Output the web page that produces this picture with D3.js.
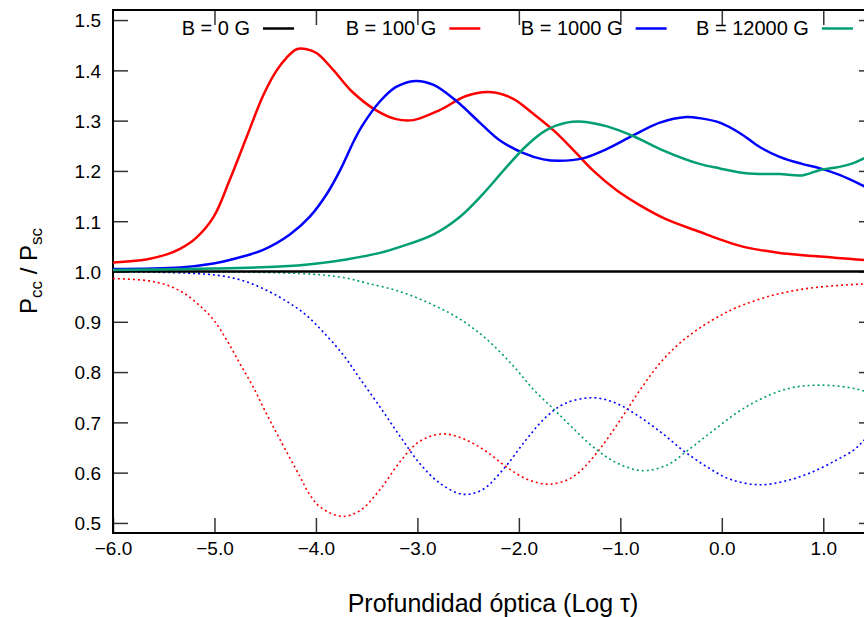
<!DOCTYPE html>
<html lang="es">
<head>
  <meta charset="UTF-8">
  <title>Pcc / Psc</title>
  <script src="https://d3js.org/d3.v7.min.js"></script>
  <style>
    body { margin: 0; background: #fff; }
    svg { display: block; font-family: "Liberation Sans", Arial, sans-serif; }
    .tick text { font-size: 19px; fill: #000; }
    .tick line { stroke: #333; stroke-width: 1.5px; }
    .frame { fill: none; stroke: #000; stroke-width: 2px; }
    .solid { fill: none; stroke-width: 2.5px; }
    .dotted { fill: none; stroke-width: 1.6px; stroke-dasharray: 2,3; }
  </style>
</head>
<body>
  <svg width="864" height="617"></svg>

  <script>
    // Series labels and colours (legend order)
    const seriesNames = ["B = 0 G", "B = 100 G", "B = 1000 G", "B = 12000 G"];
    const seriesColors = ["#000000", "#ff0000", "#0000ff", "#009e73"];

    const xTicks = [-6, -5, -4, -3, -2, -1, 0, 1];
    const yTicks = [0.5, 0.6, 0.7, 0.8, 0.9, 1.0, 1.1, 1.2, 1.3, 1.4, 1.5];

    // Solid curves: [log tau, ratio]
    const solid0 = [[-6.0, 1.0], [1.5, 1.0]];
    const solid100 = [
      [-6.00, 1.018], [-5.67, 1.024], [-5.47, 1.034], [-5.34, 1.045], [-5.18, 1.067],
      [-5.01, 1.108], [-4.85, 1.182], [-4.68, 1.269], [-4.52, 1.350], [-4.39, 1.399],
      [-4.29, 1.425], [-4.19, 1.442], [-4.09, 1.442], [-3.99, 1.434], [-3.83, 1.401],
      [-3.64, 1.357], [-3.41, 1.321], [-3.21, 1.303], [-3.04, 1.301], [-2.78, 1.321],
      [-2.52, 1.349], [-2.29, 1.357], [-2.06, 1.344], [-1.86, 1.314], [-1.66, 1.281],
      [-1.46, 1.241], [-1.27, 1.201], [-1.04, 1.162], [-0.81, 1.132], [-0.55, 1.104],
      [-0.22, 1.079], [-0.02, 1.064], [0.18, 1.051], [0.37, 1.043], [0.57, 1.037],
      [0.77, 1.033], [1.09, 1.028], [1.40, 1.023], [1.50, 1.022]
    ];
    const solid1000 = [
      [-6.00, 1.005], [-5.34, 1.008], [-5.01, 1.016], [-4.85, 1.023], [-4.52, 1.043],
      [-4.26, 1.073], [-4.06, 1.109], [-3.89, 1.155], [-3.76, 1.202], [-3.62, 1.262],
      [-3.54, 1.291], [-3.37, 1.338], [-3.21, 1.367], [-3.02, 1.379], [-2.84, 1.371],
      [-2.61, 1.338], [-2.38, 1.295], [-2.19, 1.261], [-1.96, 1.236], [-1.76, 1.223],
      [-1.60, 1.220], [-1.37, 1.225], [-1.14, 1.243], [-0.87, 1.271], [-0.61, 1.296],
      [-0.35, 1.307], [-0.22, 1.305], [-0.02, 1.296], [0.18, 1.275], [0.37, 1.248],
      [0.57, 1.228], [0.79, 1.214], [0.97, 1.205], [1.16, 1.192], [1.40, 1.170], [1.50, 1.160]
    ];
    const solid12000 = [
      [-6.00, 1.003], [-5.01, 1.006], [-4.36, 1.010], [-4.03, 1.015], [-3.70, 1.024],
      [-3.37, 1.037], [-3.17, 1.049], [-2.84, 1.074], [-2.58, 1.109], [-2.35, 1.155],
      [-2.12, 1.208], [-1.92, 1.251], [-1.73, 1.281], [-1.53, 1.296], [-1.37, 1.298],
      [-1.14, 1.289], [-0.87, 1.269], [-0.58, 1.241], [-0.22, 1.214], [-0.02, 1.205],
      [0.18, 1.197], [0.37, 1.194], [0.57, 1.194], [0.79, 1.191], [0.97, 1.202],
      [1.16, 1.208], [1.29, 1.215], [1.40, 1.225], [1.50, 1.235]
    ];

    // Dotted curves
    const dotted100 = [
      [-6.00, 0.986], [-5.67, 0.982], [-5.47, 0.973], [-5.31, 0.958], [-5.15, 0.933],
      [-5.01, 0.904], [-4.88, 0.864], [-4.75, 0.817], [-4.62, 0.771], [-4.49, 0.718],
      [-4.36, 0.668], [-4.16, 0.593], [-4.06, 0.556], [-3.96, 0.532], [-3.75, 0.513],
      [-3.57, 0.524], [-3.37, 0.566], [-3.17, 0.622], [-2.98, 0.662], [-2.75, 0.677],
      [-2.52, 0.665], [-2.32, 0.642], [-2.12, 0.611], [-1.92, 0.587], [-1.71, 0.577],
      [-1.52, 0.586], [-1.39, 0.604], [-1.21, 0.645], [-1.00, 0.705], [-0.80, 0.766],
      [-0.60, 0.820], [-0.40, 0.860], [-0.20, 0.890], [0.00, 0.914], [0.14, 0.928],
      [0.47, 0.951], [0.80, 0.965], [1.13, 0.972], [1.39, 0.975], [1.50, 0.976]
    ];
    const dotted1000 = [
      [-6.00, 1.000], [-5.18, 0.996], [-4.92, 0.991], [-4.69, 0.980], [-4.46, 0.960],
      [-4.26, 0.937], [-4.10, 0.914], [-3.93, 0.880], [-3.73, 0.834], [-3.57, 0.788],
      [-3.37, 0.731], [-3.17, 0.672], [-2.98, 0.619], [-2.78, 0.579], [-2.55, 0.557],
      [-2.36, 0.566], [-2.16, 0.605], [-1.93, 0.665], [-1.73, 0.711], [-1.54, 0.738],
      [-1.27, 0.749], [-1.04, 0.738], [-0.84, 0.715], [-0.61, 0.682], [-0.38, 0.644],
      [-0.15, 0.612], [0.08, 0.587], [0.37, 0.576], [0.64, 0.584], [0.90, 0.602],
      [1.13, 0.625], [1.30, 0.645], [1.39, 0.662], [1.50, 0.685]
    ];
    const dotted12000 = [
      [-6.00, 1.000], [-4.16, 0.996], [-3.73, 0.988], [-3.50, 0.977], [-3.17, 0.960],
      [-2.84, 0.933], [-2.57, 0.904], [-2.31, 0.864], [-2.05, 0.811], [-1.85, 0.764],
      [-1.65, 0.725], [-1.49, 0.693], [-1.29, 0.655], [-1.06, 0.622], [-0.79, 0.604],
      [-0.54, 0.615], [-0.35, 0.642], [-0.12, 0.678], [0.14, 0.718], [0.40, 0.748],
      [0.67, 0.768], [0.94, 0.774], [1.23, 0.770], [1.39, 0.763], [1.50, 0.757]
    ];

    const solidSeries = [solid0, solid100, solid1000, solid12000];
    const dottedSeries = [null, dotted100, dotted1000, dotted12000];

    const svg = d3.select("svg");
    const margin = { left: 113, top: 10, right: 874, bottom: 533 };

    const x = d3.scaleLinear().domain([-6, 1.5]).range([margin.left, margin.right]);
    const y = d3.scaleLinear().domain([0.48, 1.52]).range([margin.bottom, margin.top]);

    // Clip curves to plot area
    svg.append("clipPath").attr("id", "plot")
      .append("rect")
      .attr("x", margin.left).attr("y", margin.top)
      .attr("width", margin.right - margin.left)
      .attr("height", margin.bottom - margin.top);

    const fmt = d3.format(".1f");
    const minus = d => fmt(d).replace("-", "\u2212");

    // Axes (ticks pointing inward)
    svg.append("g")
      .attr("transform", `translate(0,${margin.bottom})`)
      .call(d3.axisBottom(x).tickValues(xTicks).tickFormat(minus).tickSizeInner(-15).tickSizeOuter(0).tickPadding(9))
      .call(g => g.select(".domain").remove());

    svg.append("g")
      .attr("transform", `translate(0,${margin.top})`)
      .call(d3.axisTop(x).tickValues(xTicks.slice(1)).tickFormat("").tickSizeInner(-15).tickSizeOuter(0))
      .call(g => g.select(".domain").remove());

    svg.append("g")
      .attr("transform", `translate(${margin.left},0)`)
      .call(d3.axisLeft(y).tickValues(yTicks).tickFormat(fmt).tickSizeInner(-15).tickSizeOuter(0).tickPadding(12))
      .call(g => g.select(".domain").remove())
      .selectAll("text").attr("dy", "0.36em");

    svg.append("g")
      .attr("transform", `translate(${margin.right},0)`)
      .call(d3.axisRight(y).tickValues(yTicks).tickFormat("").tickSizeInner(-15).tickSizeOuter(0))
      .call(g => g.select(".domain").remove());

    svg.append("rect")
      .attr("class", "frame")
      .attr("x", margin.left).attr("y", margin.top)
      .attr("width", margin.right - margin.left)
      .attr("height", margin.bottom - margin.top);

    const line = d3.line()
      .x(d => x(d[0]))
      .y(d => y(d[1]))
      .curve(d3.curveCatmullRom.alpha(0.5));

    const plot = svg.append("g").attr("clip-path", "url(#plot)");

    dottedSeries.forEach((s, i) => {
      if (!s) return;
      plot.append("path")
        .attr("class", "dotted")
        .attr("stroke", seriesColors[i])
        .attr("d", line(s));
    });

    solidSeries.forEach((s, i) => {
      plot.append("path")
        .attr("class", "solid")
        .attr("stroke", seriesColors[i])
        .attr("d", line(s));
    });

    // Legend along the top
    const legend = svg.append("g").attr("font-size", 20);
    seriesNames.forEach((name, i) => {
      const sx = 263 + i * 186.3;
      legend.append("text")
        .attr("x", sx - 13)
        .attr("y", 35)
        .attr("text-anchor", "end")
        .text(name);
      legend.append("line")
        .attr("x1", sx).attr("x2", sx + 31)
        .attr("y1", 28.5).attr("y2", 28.5)
        .attr("stroke", seriesColors[i])
        .attr("stroke-width", 2.5);
    });

    // Axis titles
    svg.append("text")
      .attr("x", 493)
      .attr("y", 612)
      .attr("text-anchor", "middle")
      .attr("font-size", 25)
      .text("Profundidad óptica (Log τ)");

    const yl = svg.append("text")
      .attr("transform", "translate(37,271) rotate(-90)")
      .attr("text-anchor", "middle")
      .attr("font-size", 24);
    yl.append("tspan").text("P");
    yl.append("tspan").attr("font-size", 17).attr("dy", 5).text("cc");
    yl.append("tspan").attr("dy", -5).text(" / P");
    yl.append("tspan").attr("font-size", 17).attr("dy", 5).text("sc");
  </script>
</body>
</html>
